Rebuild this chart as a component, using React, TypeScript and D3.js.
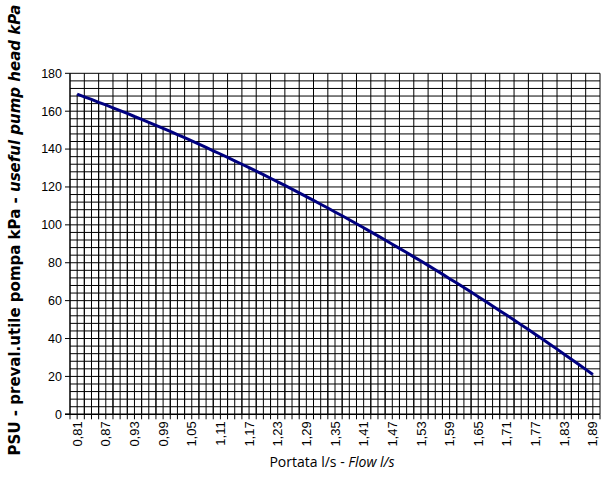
import React from "react";
import * as d3 from "d3";

const flow: number[] = [
  0.81, 0.825, 0.84, 0.855, 0.87, 0.885, 0.9, 0.915, 0.93, 0.945, 0.96, 0.975,
  0.99, 1.005, 1.02, 1.035, 1.05, 1.065, 1.08, 1.095, 1.11, 1.125, 1.14, 1.155,
  1.17, 1.185, 1.2, 1.215, 1.23, 1.245, 1.26, 1.275, 1.29, 1.305, 1.32, 1.335,
  1.35, 1.365, 1.38, 1.395, 1.41, 1.425, 1.44, 1.455, 1.47, 1.485, 1.5, 1.515,
  1.53, 1.545, 1.56, 1.575, 1.59, 1.605, 1.62, 1.635, 1.65, 1.665, 1.68, 1.695,
  1.71, 1.725, 1.74, 1.755, 1.77, 1.785, 1.8, 1.815, 1.83, 1.845, 1.86, 1.875, 1.89,
];
const head: number[] = [
  169.0, 167.6, 166.2, 164.7, 163.3, 161.8, 160.3, 158.8, 157.2, 155.7, 154.1, 152.5,
  150.9, 149.3, 147.6, 146.0, 144.3, 142.6, 140.9, 139.1, 137.4, 135.6, 133.8, 132.0,
  130.2, 128.4, 126.5, 124.6, 122.7, 120.8, 118.9, 116.9, 114.9, 112.9, 110.9, 108.9,
  106.8, 104.8, 102.7, 100.6, 98.5, 96.3, 94.2, 92.0, 89.8, 87.6, 85.4, 83.1,
  80.9, 78.6, 76.3, 74.0, 71.6, 69.3, 66.9, 64.5, 62.1, 59.7, 57.2, 54.7,
  52.3, 49.8, 47.2, 44.7, 42.1, 39.6, 37.0, 34.4, 31.7, 29.1, 26.4, 23.7, 21.0,
];
const xLabels: string[] = [
  "0,81", "0,87", "0,93", "0,99", "1,05", "1,11", "1,17", "1,23", "1,29", "1,35",
  "1,41", "1,47", "1,53", "1,59", "1,65", "1,71", "1,77", "1,83", "1,89",
];
const yTicks: number[] = [0, 20, 40, 60, 80, 100, 120, 140, 160, 180];

const X_MIN = 0.795;
const X_STEP = 0.015;
const X_STEPS = 74;
const Y_GRID_STEP = 4;

export default function App() {
  const left = 70, right = 600, top = 73.3, bottom = 414.3;
  const x = d3.scaleLinear().domain([X_MIN, X_MIN + X_STEP * X_STEPS]).range([left, right]);
  const y = d3.scaleLinear().domain([0, 180]).range([bottom, top]);

  const tickVals = d3.range(0, X_STEPS + 1).map((k) => X_MIN + k * X_STEP);
  const gridV = tickVals.filter((_, k) => k % 2 === 0 && k > 0);
  const gridH = d3.range(Y_GRID_STEP, 180 + 0.001, Y_GRID_STEP);
  const labelVals = xLabels.map((l) => parseFloat(l.replace(",", ".")));

  const line = d3.line<number>().x((_, i) => x(flow[i])).y((d) => y(d));

  return (
    <svg width={608} height={486} style={{ position: "absolute", left: 0, top: 0, background: "#fff" }}>
      <rect x={0} y={0} width={608} height={486} fill="#fff" />
      {gridH.map((v) => (
        <line key={"h" + v} x1={left} x2={right} y1={y(v)} y2={y(v)} stroke="#000" strokeWidth={1} />
      ))}
      {gridV.map((v, i) => (
        <line key={"v" + i} x1={x(v)} x2={x(v)} y1={top} y2={bottom} stroke="#000" strokeWidth={1} />
      ))}
      {flow.map((f, i) => (
        <line key={"d" + i} x1={x(f)} x2={x(f)} y1={y(head[i])} y2={bottom} stroke="#000" strokeWidth={1} />
      ))}
      <line x1={left} x2={left} y1={top} y2={bottom + 0.5} stroke="#000" strokeWidth={1.5} />
      <line x1={left - 5} x2={right} y1={bottom} y2={bottom} stroke="#000" strokeWidth={1.5} />
      {tickVals.map((v, i) => (
        <line key={"t" + i} x1={x(v)} x2={x(v)} y1={bottom} y2={bottom + 5} stroke="#000" strokeWidth={1} />
      ))}
      {yTicks.map((v) => (
        <line key={"yt" + v} x1={left - 5} x2={left} y1={y(v)} y2={y(v)} stroke="#000" strokeWidth={1} />
      ))}
      {yTicks.map((v) => (
        <text key={"yl" + v} x={62} y={y(v)} dy="0.35em" textAnchor="end"
          fontFamily="Liberation Sans, Arial, sans-serif" fontSize={12.5} fill="#000">{v}</text>
      ))}
      {xLabels.map((l, i) => (
        <text key={"xl" + i} transform={`translate(${x(labelVals[i])},${bottom + 7}) rotate(-90)`}
          dy="0.35em" textAnchor="end" fontFamily="Liberation Sans, Arial, sans-serif" fontSize={13} fill="#000">{l}</text>
      ))}
      <path d={line(head) || ""} fill="none" stroke="#000080" strokeWidth={3} />
      <text x={332} y={467} textAnchor="middle" fontFamily="Open Sans, sans-serif" fontSize={14} fill="#000">
        Portata l/s - <tspan fontStyle="italic">Flow l/s</tspan>
      </text>
      <text transform={`translate(20,230) rotate(-90)`} textAnchor="middle"
        fontFamily="DejaVu Sans, Verdana, sans-serif" fontWeight="bold" fontSize={15} fill="#000">
        PSU - preval.utile pompa kPa - <tspan fontStyle="italic">useful pump head kPa</tspan>
      </text>
    </svg>
  );
}
